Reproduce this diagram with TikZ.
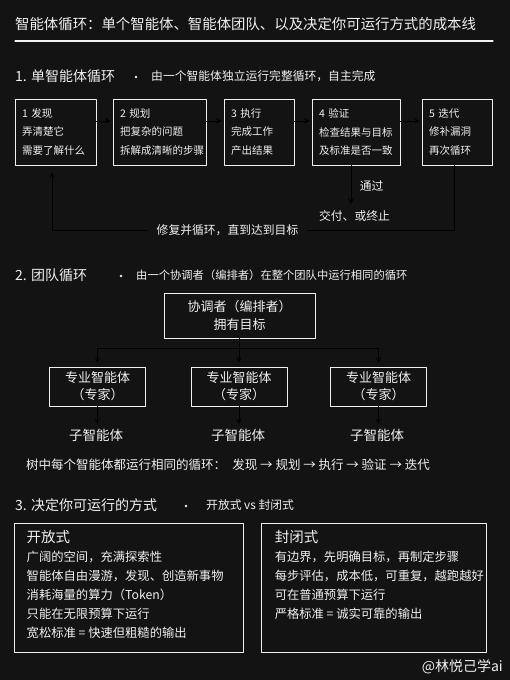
\documentclass[tikz,border=0pt]{standalone}
\usepackage{fontspec}
\setmainfont{Noto Sans CJK SC}
\usetikzlibrary{positioning,arrows.meta}
\definecolor{bg}{HTML}{131313}
\definecolor{ink}{HTML}{F0F0F0}
\tikzset{
  head/.style={anchor=west, inner sep=0pt, font=\fontsize{14}{16}\selectfont},
  subhead/.style={anchor=west, inner sep=0pt, font=\fontsize{11.8}{14}\selectfont},
  dot/.style={circle, fill=ink, inner sep=0pt, minimum size=2.8pt},
  stepbox/.style={draw=ink, line width=0.9pt, text width=#1, inner xsep=7pt, minimum height=66pt, align=left, font=\fontsize{10.5}{18.5}\selectfont},
  orchbox/.style={draw=ink, line width=0.9pt, minimum width=151pt, minimum height=45pt, align=center, font=\fontsize{13}{18}\selectfont},
  expbox/.style={draw=ink, line width=0.9pt, minimum width=96pt, minimum height=39pt, align=center, font=\fontsize{13}{17}\selectfont},
  leaf/.style={font=\fontsize{13.5}{16}\selectfont},
  modebox/.style={draw=ink, line width=0.9pt, minimum height=129pt},
  modetext/.style={anchor=north west, inner sep=0pt, align=left, font=\fontsize{12.3}{19}\selectfont},
  label/.style={font=\fontsize{11.8}{14}\selectfont}
}
\begin{document}
\begin{tikzpicture}[line join = round, line cap = round,>={Stealth[length=5.5pt,width=5.5pt]},x=1pt,y=-1pt,text=ink]
\def\rowy{132} \def\treey{386.5}
\fill[bg] (0,0) rectangle (510,680);
\useasboundingbox (0,0) rectangle (510,680);

% title
\node[anchor=west, inner sep=0pt, font=\fontsize{14.4}{16}\selectfont] (title) at (15,24) {智能体循环：单个智能体、智能体团队、以及决定你可运行方式的成本线};
\draw[ink!85, line width=1.2pt] (15,41) -- (493,41);

% 1. single agent loop
\node[head] (h1) at (15,76) {1. 单智能体循环};
\node[dot] (d1) at (136,77) {};
\node[subhead] (s1) at (151,76) {由一个智能体独立运行完整循环，自主完成};

\node[stepbox=67pt] (find) at (55.5,\rowy) {1 发现\\弄清楚它\\需要了解什么};
\node[stepbox=79pt] (plan) at (159.5,\rowy) {2 规划\\把复杂的问题\\拆解成清晰的步骤};
\node[stepbox=56pt] (exec) at (259,\rowy) {3 执行\\完成工作\\产出结果};
\node[stepbox=74pt] (check) at (356,\rowy) {4 验证\\检查结果与目标\\及标准是否一致};
\node[stepbox=56pt] (iterate) at (457,\rowy) {5 迭代\\修补漏洞\\再次循环};
\foreach \a/\b in {find/plan,plan/exec,exec/check,check/iterate}
  \draw[->, line width=0.9pt, shorten >=2pt] ([yshift=11pt]\a.east) -- ([yshift=11pt]\b.west);

\node[label] (deliver) at (354.5,216) {交付、或终止};
\draw[->, line width=0.9pt, shorten >=3pt] ([xshift=-5pt]check.south) -- ([xshift=-3.5pt]deliver.north)
  node[label, right=5pt, pos=0.5] (pass) {通过};

\node[label, fill=bg, inner xsep=9pt] (fix) at (227.5,230) {修复并循环，直到达到目标};
\draw[line width=0.9pt] ([xshift=-3pt]iterate.south) |- (fix.east);
\draw[->, line width=0.9pt, shorten >=7pt] (fix.west) -| ([xshift=-3.5pt]find.south);

% 2. team loop
\node[head] (h2) at (15,275) {2. 团队循环};
\node[dot] (d2) at (121,276) {};
\node[subhead, font=\fontsize{11.3}{14}\selectfont] (s2) at (136,275) {由一个协调者（编排者）在整个团队中运行相同的循环};

\node[orchbox] (orch) at (239.5,315.5) {协调者（编排者）\\拥有目标};
\path (orch.south) ++(0,10) coordinate (split);
\draw[line width=0.9pt] (orch.south) -- (split);
\node[expbox] (expA) at (97.5,\treey) {专业智能体\\（专家）};
\node[expbox] (expB) at (239,\treey) {专业智能体\\（专家）};
\node[expbox] (expC) at (378.5,\treey) {专业智能体\\（专家）};
\foreach \e/\s/\x in {expA/subA/96,expB/subB/238,expC/subC/377} {
  \draw[->, line width=0.9pt, shorten >=4pt] (split) -| (\e.north);
  \node[leaf] (\s) at (\x,435) {子智能体};
  \draw[->, line width=0.9pt, shorten >=1pt] (\e.south) -- (\e.south |- \s.north);
}
\node[anchor=west, inner sep=0pt, font=\fontsize{12.5}{14}\selectfont] (same) at (26,465)
  {树中每个智能体都运行相同的循环：\enspace 发现 → 规划 → 执行 → 验证 → 迭代};

% 3. how you can run it
\node[head] (h3) at (15,505) {3. 决定你可运行的方式};
\node[dot] (d3) at (186,506) {};
\node[subhead] (s3) at (206,505) {开放式 vs 封闭式};

\node[modebox, minimum width=229pt] (open) at (128.5,587.5) {};
\node[modebox, minimum width=225pt] (closed) at (373.5,587.5) {};
\node[modetext] (opentext) at ([shift={(13pt,-8pt)}]open.north west)
  {{\fontsize{14.5}{19}\selectfont 开放式}\\广阔的空间，充满探索性\\智能体自由漫游，发现、创造新事物\\消耗海量的算力（Token）\\只能在无限预算下运行\\宽松标准 = 快速但粗糙的输出};
\node[modetext] (closedtext) at ([shift={(14pt,-8pt)}]closed.north west)
  {{\fontsize{14.5}{19}\selectfont 封闭式}\\有边界，先明确目标，再制定步骤\\每步评估，成本低，可重复，越跑越好\\可在普通预算下运行\\严格标准 = 诚实可靠的输出};

\node[anchor=east, inner sep=0pt, font=\fontsize{14}{16}\selectfont] (mark) at (503,667) {@林悦己学ai};
\end{tikzpicture}
\end{document}
